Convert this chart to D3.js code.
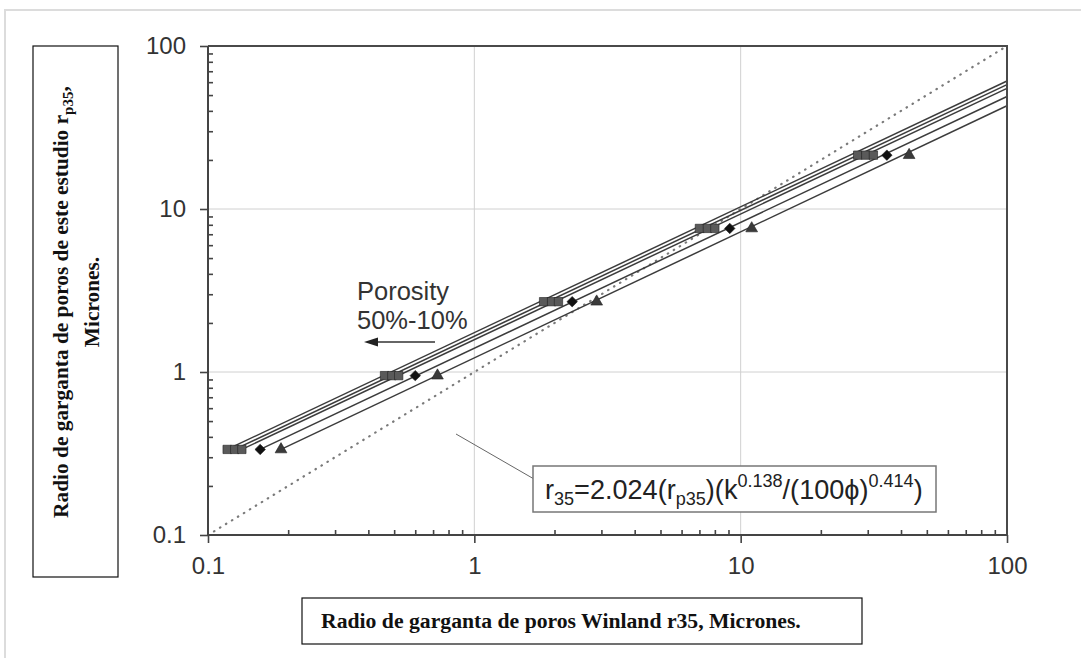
<!DOCTYPE html>
<html>
<head>
<meta charset="utf-8">
<script src="https://cdn.jsdelivr.net/npm/d3@7"></script>
<style>
  html, body { margin: 0; padding: 0; background: #fff; }
  svg { display: block; }
</style>
</head>
<body>
<svg id="chart" width="1081" height="658"></svg>
<script>
// Pore-throat radius levels (this study, r_p35, microns)
const yLevels = [0.335, 0.95, 2.7, 7.6, 21.4];

// Winland r35 for each porosity series at the same r_p35 levels
const squaresA = [0.118, 0.46, 1.82, 7.0, 27.5];
const squaresB = [0.126, 0.49, 1.95, 7.5, 29.5];
const squaresC = [0.134, 0.52, 2.07, 8.0, 31.5];
const diamondX = [0.157, 0.60, 2.33, 9.1, 35.4];
const triangleX = [0.188, 0.727, 2.88, 11.0, 42.9];

// Value of each trend line where it meets the right edge (x = 100)
const lineEndAt100 = [61, 58, 55, 49, 43];

const majorTicks = [0.1, 1, 10, 100];
const tickLabels = ["0.1", "1", "10", "100"];
const diagonal = [0.1, 100];

const svg = d3.select("#chart");
const plotL = 208, plotR = 1007, plotT = 46, plotB = 535;

const x = d3.scaleLog().domain([0.1, 100]).range([plotL, plotR]);
const y = d3.scaleLog().domain([0.1, 100]).range([plotB, plotT]);

const sans = "'Liberation Sans', Arial, sans-serif";
const serif = "'Liberation Serif', 'Times New Roman', serif";

// scale a text element's font so that it spans the given width
function fitWidth(textSel, target) {
  const node = textSel.node();
  const base = parseFloat(textSel.style("font-size"));
  const w = node.getComputedTextLength();
  const k = target / w;
  textSel.style("font-size", (base * k) + "px");
  textSel.selectAll("tspan").each(function () {
    const t = d3.select(this);
    const fs = parseFloat(this.style.fontSize);
    if (fs) t.style("font-size", (fs * k) + "px");
    const dy = parseFloat(t.attr("dy"));
    if (!isNaN(dy)) t.attr("dy", dy * k);
  });
}

// faint figure border
svg.append("path")
  .attr("d", "M5,658 L5,10 L1081,10")
  .attr("fill", "none").attr("stroke", "#dcdcdc").attr("stroke-width", 2);

// minor tick values for the log axes
const minorTicks = [];
[0.1, 1, 10].forEach(d => { for (let k = 2; k <= 9; k++) minorTicks.push(d * k); });

// grid
const grid = svg.append("g").attr("stroke", "#d0d0d0").attr("stroke-width", 1);
[1, 10].forEach(v => {
  grid.append("line").attr("x1", x(v)).attr("x2", x(v)).attr("y1", plotT).attr("y2", plotB);
  grid.append("line").attr("y1", y(v)).attr("y2", y(v)).attr("x1", plotL).attr("x2", plotR);
});

// 1:1 reference line
svg.append("line")
  .attr("x1", x(diagonal[0])).attr("y1", y(diagonal[0]))
  .attr("x2", x(diagonal[1])).attr("y2", y(diagonal[1]))
  .attr("stroke", "#7a7a7a").attr("stroke-width", 2.2)
  .attr("stroke-dasharray", "0.5,6.5").attr("stroke-linecap", "round");

// trend lines: from the first point of each series to x = 100
const series = [
  { xs: squaresA, shape: "square" },
  { xs: squaresB, shape: "square" },
  { xs: squaresC, shape: "square" },
  { xs: diamondX, shape: "diamond" },
  { xs: triangleX, shape: "triangle" }
];

const line = d3.line().x(d => x(d[0])).y(d => y(d[1]));
series.forEach((s, i) => {
  const pts = [[s.xs[0], yLevels[0]], [100, lineEndAt100[i]]];
  svg.append("path").attr("d", line(pts))
    .attr("fill", "none").attr("stroke", "#3c3c3c").attr("stroke-width", 1.5);
});

// markers
const sym = {
  square: d3.symbol().type(d3.symbolSquare).size(70),
  diamond: d3.symbol().type(d3.symbolDiamond2).size(70),
  triangle: d3.symbol().type(d3.symbolTriangle).size(60)
};
const fills = { square: "#5a5a5a", diamond: "#111", triangle: "#3a3a3a" };
series.forEach(s => {
  svg.append("g").selectAll("path").data(s.xs.map((v, j) => [v, yLevels[j]]))
    .join("path")
    .attr("transform", d => `translate(${x(d[0])},${y(d[1])})`)
    .attr("d", sym[s.shape]())
    .attr("fill", fills[s.shape])
    .attr("stroke", "#222").attr("stroke-width", 0.6);
});

// frame: top and right
svg.append("path")
  .attr("d", `M${plotL},${plotT} L${plotR},${plotT} L${plotR},${plotB}`)
  .attr("fill", "none").attr("stroke", "#4a4a4a").attr("stroke-width", 2);

// axes
const fmt = v => tickLabels[majorTicks.indexOf(v)];
const yMinor = svg.append("g").attr("transform", `translate(${plotL},0)`)
  .call(d3.axisRight(y).tickValues(minorTicks).tickSize(5).tickFormat(""));
const yMajor = svg.append("g").attr("transform", `translate(${plotL},0)`)
  .call(d3.axisLeft(y).tickValues(majorTicks).tickSize(8).tickPadding(14).tickFormat(fmt));
const xMinor = svg.append("g").attr("transform", `translate(0,${plotB})`)
  .call(d3.axisTop(x).tickValues(minorTicks).tickSize(5).tickFormat(""));
const xMajor = svg.append("g").attr("transform", `translate(0,${plotB})`)
  .call(d3.axisBottom(x).tickValues(majorTicks).tickSize(8).tickPadding(14).tickFormat(fmt));

[yMinor, yMajor, xMinor, xMajor].forEach(g => {
  g.select(".domain").attr("stroke", "#444").attr("stroke-width", 2);
  g.selectAll(".tick line").attr("stroke", "#444").attr("stroke-width", 1.6);
  g.selectAll(".tick text")
    .attr("fill", "#333")
    .style("font-family", sans)
    .style("font-size", "24px");
});
yMajor.select(".domain").attr("d", `M0,${plotT}V${plotB}`);
xMajor.select(".domain").attr("d", `M${plotL},0H${plotR}`);
yMinor.select(".domain").remove();
xMinor.select(".domain").remove();

// porosity annotation with a left-pointing arrow
svg.append("text").attr("x", 357).attr("y", 300).text("Porosity")
  .style("font-family", sans).style("font-size", "25.5px").attr("fill", "#333");
svg.append("text").attr("x", 357).attr("y", 329).text("50%-10%")
  .style("font-family", sans).style("font-size", "25.5px").attr("fill", "#333");
svg.append("line").attr("x1", 435).attr("y1", 342).attr("x2", 376).attr("y2", 342)
  .attr("stroke", "#333").attr("stroke-width", 1.6);
svg.append("path").attr("d", "M364,342 L378,337.5 L378,346.5 Z").attr("fill", "#222");

// equation box with leader line
svg.append("line").attr("x1", 456).attr("y1", 434).attr("x2", 534).attr("y2", 479)
  .attr("stroke", "#666").attr("stroke-width", 1);
svg.append("rect").attr("x", 533).attr("y", 466).attr("width", 403).attr("height", 46)
  .attr("fill", "#fff").attr("stroke", "#777").attr("stroke-width", 1.5);
const eq = svg.append("text").attr("x", 545).attr("y", 499)
  .style("font-family", sans).style("font-size", "21px").attr("fill", "#222");
eq.append("tspan").text("r");
eq.append("tspan").attr("dy", 5).style("font-size", "14px").text("35");
eq.append("tspan").attr("dy", -5).text("=2.024(r");
eq.append("tspan").attr("dy", 5).style("font-size", "14px").text("p35");
eq.append("tspan").attr("dy", -5).text(")(k");
eq.append("tspan").attr("dy", -9).style("font-size", "14px").text("0.138");
eq.append("tspan").attr("dy", 9).text("/(100\u03d5)");
eq.append("tspan").attr("dy", -9).style("font-size", "14px").text("0.414");
eq.append("tspan").attr("dy", 9).text(")");
fitWidth(eq, 378);

// axis titles in boxes
svg.append("rect").attr("x", 33).attr("y", 46).attr("width", 85).attr("height", 531)
  .attr("fill", "#fff").attr("stroke", "#111").attr("stroke-width", 1.2);
const yt = svg.append("g").attr("transform", "translate(0,302) rotate(-90)");
const yl1 = yt.append("text").attr("x", 0).attr("y", 68).attr("text-anchor", "middle")
  .style("font-family", serif).style("font-weight", "bold").style("font-size", "17px").attr("fill", "#111");
yl1.append("tspan").text("Radio de garganta de poros de este estudio r");
yl1.append("tspan").attr("dy", 4).style("font-size", "12px").text("p35");
yl1.append("tspan").attr("dy", -4).text(",");
fitWidth(yl1, 432);
yt.append("text").attr("x", 0).attr("y", 99).attr("text-anchor", "middle")
  .style("font-family", serif).style("font-weight", "bold").style("font-size", yl1.style("font-size")).attr("fill", "#111")
  .text("Micrones.");

svg.append("rect").attr("x", 302).attr("y", 598).attr("width", 560).attr("height", 46)
  .attr("fill", "#fff").attr("stroke", "#111").attr("stroke-width", 1.2);
const xl = svg.append("text").attr("x", 321).attr("y", 628)
  .style("font-family", serif).style("font-weight", "bold").style("font-size", "17px").attr("fill", "#111")
  .text("Radio de garganta de poros Winland r35, Micrones.");
fitWidth(xl, 480);
</script>
</body>
</html>
